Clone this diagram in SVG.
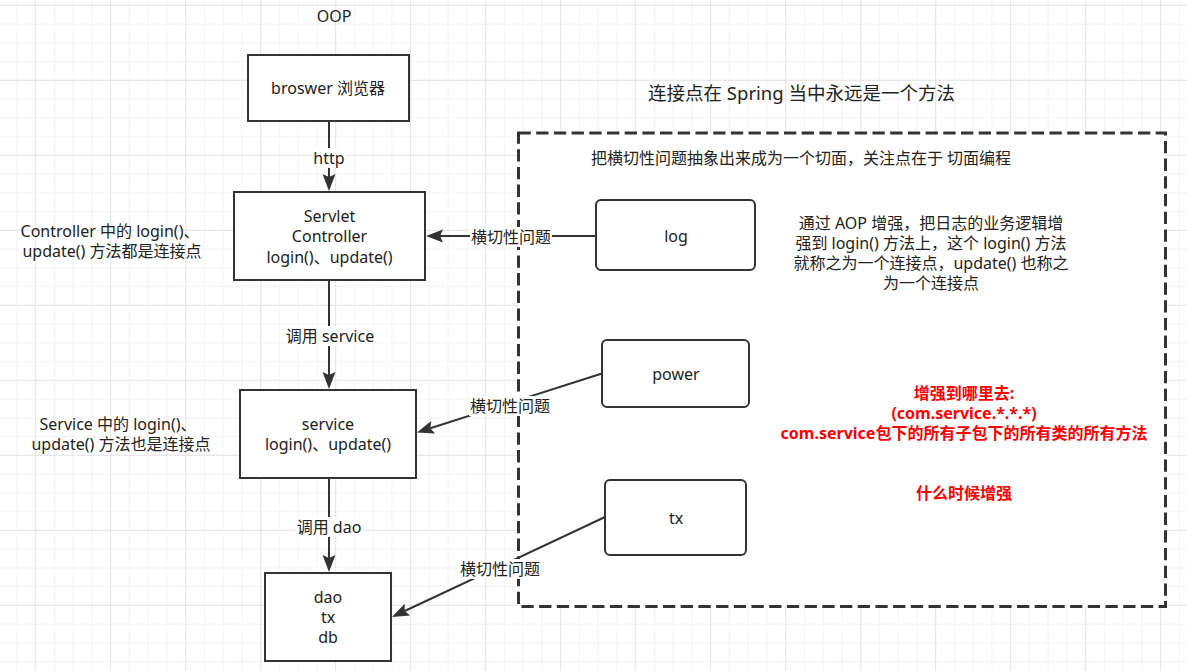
<svg xmlns="http://www.w3.org/2000/svg" width="1187" height="671" viewBox="0 0 1187 671">
  <defs>
    <pattern id="grid" width="75" height="75" patternUnits="userSpaceOnUse" x="35.2" y="4.8">
      <path d="M19.25 0V75M38 0V75M56.75 0V75M0 19.25H75M0 38H75M0 56.75H75" stroke="#f2f2f2" stroke-width="1" fill="none"/>
      <path d="M0.5 0V75M0 0.5H75" stroke="#e2e2e2" stroke-width="1" fill="none"/>
    </pattern>
    <marker id="arrow" markerUnits="userSpaceOnUse" markerWidth="20" markerHeight="14" refX="4" refY="7" orient="auto">
      <path d="M4 7 L1 0.5 L18 7 L1 13.5 Z" fill="#333"/>
    </marker>
    <style>
      text { font-family: "Noto Sans", "Noto Sans CJK SC", sans-serif; font-size: 16px; fill: #222; text-anchor: middle; dominant-baseline: central; }
      .box { fill: #fff; stroke: #333; stroke-width: 2; }
      .edge { fill: none; stroke: #333; stroke-width: 2; }
      .lbl-bg { fill: #fff; }
      .red { fill: #ff0000; font-weight: bold; }
      .title { font-size: 18.5px; }
    </style>
  </defs>

  <!-- canvas grid -->
  <rect width="1187" height="671" fill="#fff"/>
  <rect width="1187" height="671" fill="url(#grid)"/>

  <!-- aspect container -->
  <g id="aspect-area">
    <rect x="518.5" y="133" width="647" height="473.5" fill="#fff" stroke="#333" stroke-width="3" stroke-dasharray="12.3 5.4"/>
  </g>

  <!-- free text -->
  <g id="title-oop"><text x="334" y="16">OOP</text></g>
  <g id="title-joinpoint"><text class="title" x="801.5" y="92">连接点在 Spring 当中永远是一个方法</text></g>
  <g id="note-aspect"><text x="801" y="158">把横切性问题抽象出来成为一个切面，关注点在于 切面编程</text></g>
  <g id="note-controller">
    <text x="110" y="231">Controller 中的 login()、</text>
    <text x="112" y="251">update() 方法都是连接点</text>
  </g>
  <g id="note-service">
    <text x="118" y="424">Service 中的 login()、</text>
    <text x="121" y="444">update() 方法也是连接点</text>
  </g>
  <g id="note-aop">
    <text x="931" y="223">通过 AOP 增强，把日志的业务逻辑增</text>
    <text x="931" y="243">强到 login() 方法上，这个 login() 方法</text>
    <text x="931" y="263">就称之为一个连接点，update() 也称之</text>
    <text x="931" y="283">为一个连接点</text>
  </g>
  <g id="note-where">
    <text class="red" x="964" y="393">增强到哪里去:</text>
    <text class="red" x="964" y="413">(com.service.*.*.*)</text>
    <text class="red" x="964" y="433">com.service包下的所有子包下的所有类的所有方法</text>
  </g>
  <g id="note-when"><text class="red" x="964" y="493">什么时候增强</text></g>

  <!-- connectors -->
  <g id="connectors">
    <path class="edge" d="M329 121 V177" marker-end="url(#arrow)"/>
    <rect class="lbl-bg" x="312" y="148" width="34" height="20"/>
    <text x="329" y="158">http</text>

    <path class="edge" d="M329 280 V375" marker-end="url(#arrow)"/>
    <rect class="lbl-bg" x="284" y="326" width="92" height="20"/>
    <text x="330" y="336">调用 service</text>

    <path class="edge" d="M329 478 V558" marker-end="url(#arrow)"/>
    <rect class="lbl-bg" x="295" y="517" width="68" height="20"/>
    <text x="329" y="527">调用 dao</text>

    <path class="edge" d="M596 236 H440" marker-end="url(#arrow)"/>
    <rect class="lbl-bg" x="470" y="227" width="82" height="20"/>
    <text x="511" y="237">横切性问题</text>

    <path class="edge" d="M602 373.5 L430.3 428.2" marker-end="url(#arrow)"/>
    <rect class="lbl-bg" x="469" y="396" width="82" height="20"/>
    <text x="510" y="406">横切性问题</text>

    <path class="edge" d="M605 517 L404.7 611" marker-end="url(#arrow)"/>
    <rect class="lbl-bg" x="459" y="559" width="82" height="20"/>
    <text x="500" y="569">横切性问题</text>
  </g>

  <!-- nodes -->
  <g id="browser">
    <rect class="box" x="248" y="55" width="161" height="66"/>
    <text x="328" y="88">broswer 浏览器</text>
  </g>
  <g id="controller">
    <rect class="box" x="234" y="192" width="191" height="88"/>
    <text x="329.5" y="216">Servlet</text>
    <text x="329.5" y="236">Controller</text>
    <text x="329.5" y="257">login()、update()</text>
  </g>
  <g id="service">
    <rect class="box" x="240" y="390" width="176" height="88"/>
    <text x="328" y="424">service</text>
    <text x="328" y="444">login()、update()</text>
  </g>
  <g id="dao">
    <rect class="box" x="265" y="573" width="126" height="88"/>
    <text x="328" y="597">dao</text>
    <text x="328" y="617">tx</text>
    <text x="328" y="637">db</text>
  </g>
  <g id="log">
    <rect class="box" x="596" y="200" width="159" height="70" rx="5"/>
    <text x="676" y="236">log</text>
  </g>
  <g id="power">
    <rect class="box" x="602" y="340" width="147" height="67" rx="5"/>
    <text x="676" y="374">power</text>
  </g>
  <g id="tx">
    <rect class="box" x="605" y="480" width="141" height="75" rx="5"/>
    <text x="676" y="518">tx</text>
  </g>
</svg>
